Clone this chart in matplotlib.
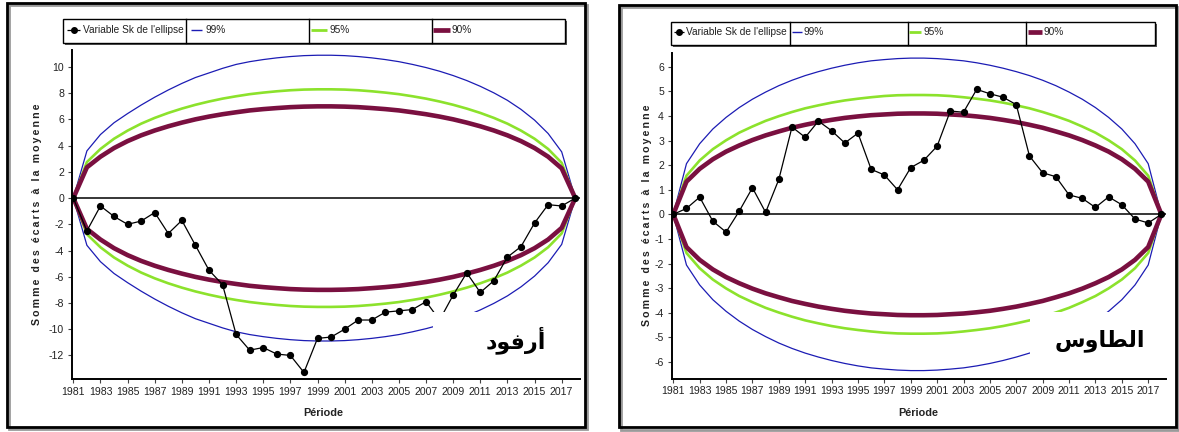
import matplotlib
matplotlib.use("Agg")
import matplotlib.pyplot as plt
from matplotlib.patches import Rectangle
from matplotlib.lines import Line2D

# ---------------------------------------------------------------- data
years = list(range(1981, 2019))
xtick_years = list(range(1981, 2018, 2))

# Arfoud: cumulative deviations from the mean (Bois ellipse test)
arfoud_sk = [0, -2.5, -0.6, -1.4, -2.0, -1.75, -1.1, -2.7, -1.7, -3.6,
             -5.5, -6.6, -10.4, -11.6, -11.4, -11.9, -12.0, -13.3, -10.7, -10.6,
             -10.0, -9.3, -9.3, -8.7, -8.6, -8.5, -7.9, -9.3, -7.4, -5.7,
             -7.2, -6.3, -4.5, -3.7, -1.9, -0.5, -0.6, 0]
arfoud_99 = [0, 3.6, 4.85, 5.75, 6.45, 7.1, 7.7, 8.25, 8.75, 9.2,
             9.55, 9.9, 10.2, 10.41, 10.57, 10.7, 10.8, 10.87, 10.9, 10.9,
             10.87, 10.8, 10.7, 10.57, 10.41, 10.2, 9.96, 9.68, 9.35, 8.97,
             8.53, 8.03, 7.46, 6.77, 5.95, 4.93, 3.53, 0]
arfoud_95 = [0, 2.75, 3.75, 4.53, 5.15, 5.68, 6.12, 6.5, 6.83, 7.12,
             7.37, 7.59, 7.77, 7.93, 8.05, 8.15, 8.23, 8.28, 8.3, 8.3,
             8.28, 8.23, 8.15, 8.05, 7.93, 7.77, 7.59, 7.37, 7.12, 6.83,
             6.5, 6.12, 5.68, 5.15, 4.53, 3.75, 2.69, 0]
arfoud_90 = [0, 2.35, 3.16, 3.82, 4.35, 4.79, 5.16, 5.48, 5.76, 6.01,
             6.22, 6.4, 6.55, 6.69, 6.79, 6.87, 6.94, 6.98, 7.0, 7.0,
             6.98, 6.94, 6.87, 6.79, 6.69, 6.55, 6.4, 6.22, 6.01, 5.76,
             5.48, 5.16, 4.79, 4.35, 3.82, 3.16, 2.27, 0]

# Taous
taous_sk = [0, 0.24, 0.7, -0.28, -0.72, 0.13, 1.08, 0.08, 1.42, 3.55,
            3.13, 3.79, 3.4, 2.9, 3.3, 1.83, 1.6, 1.0, 1.9, 2.2,
            2.77, 4.2, 4.15, 5.08, 4.9, 4.76, 4.46, 2.37, 1.69, 1.53,
            0.79, 0.65, 0.28, 0.71, 0.39, -0.19, -0.35, 0]
taous_99 = [0, 2.06, 2.87, 3.47, 3.94, 4.34, 4.68, 4.97, 5.23, 5.45,
            5.64, 5.8, 5.94, 6.06, 6.16, 6.24, 6.29, 6.33, 6.35, 6.35,
            6.33, 6.29, 6.24, 6.16, 6.06, 5.94, 5.8, 5.64, 5.45, 5.23,
            4.97, 4.68, 4.34, 3.94, 3.47, 2.87, 2.06, 0]
taous_95 = [0, 1.57, 2.19, 2.65, 3.01, 3.32, 3.57, 3.8, 3.99, 4.16,
            4.31, 4.43, 4.54, 4.63, 4.7, 4.76, 4.81, 4.84, 4.85, 4.85,
            4.84, 4.81, 4.76, 4.7, 4.63, 4.54, 4.43, 4.31, 4.16, 3.99,
            3.8, 3.57, 3.32, 3.01, 2.65, 2.19, 1.57, 0]
taous_90 = [0, 1.33, 1.85, 2.24, 2.55, 2.8, 3.02, 3.21, 3.37, 3.52,
            3.64, 3.75, 3.84, 3.92, 3.98, 4.03, 4.06, 4.09, 4.1, 4.1,
            4.09, 4.06, 4.03, 3.98, 3.92, 3.84, 3.75, 3.64, 3.52, 3.37,
            3.21, 3.02, 2.8, 2.55, 2.24, 1.85, 1.33, 0]

legend_labels = ["Variable Sk de l'ellipse", "99%", "95%", "90%"]
ylabel_text = "Somme des écarts à la moyenne"
xlabel_text = "Période"
# station names, in Arabic presentation forms (visual order)
name_arfoud = "\uFEA9\uFEEE\uFED3\uFEAD\uFE83"
name_taous = "\uFEB1\uFEED\uFE8E\uFEC4\uFEDF\uFE8D"

# ---------------------------------------------------------------- style
C_SK = "black"
C_99 = "#1c1cb4"
C_95 = "#8ce22c"
C_90 = "#7a1040"
SANS = ["Liberation Sans", "DejaVu Sans"]

W, H = 1179, 432
fig = plt.figure(figsize=(W / 100, H / 100), dpi=100)
fig.patch.set_facecolor("white")


def fx(x):
    return x / W


def fy(y):
    return 1 - y / H


def rect_px(x0, y0, x1, y1, **kw):
    r = Rectangle((fx(x0), fy(y1)), (x1 - x0) / W, (y1 - y0) / H,
                  transform=fig.transFigure, **kw)
    fig.add_artist(r)
    return r


def line_px(xs, ys, **kw):
    ln = Line2D([fx(x) for x in xs], [fy(y) for y in ys],
                transform=fig.transFigure, **kw)
    fig.add_artist(ln)
    return ln


def panel(ax_px, sk, b99, b95, b90, ylim, yticks):
    x0, y0, x1, y1 = ax_px
    ax = fig.add_axes([fx(x0), fy(y1), (x1 - x0) / W, (y1 - y0) / H])
    ax.set_facecolor("none")
    for series, col, lw in ((b99, C_99, 0.9), (b95, C_95, 1.9), (b90, C_90, 3.3)):
        ax.plot(years, series, color=col, lw=lw, zorder=2, solid_joinstyle="round")
        ax.plot(years, [-v for v in series], color=col, lw=lw, zorder=2,
                solid_joinstyle="round")
    ax.axhline(0, color="black", lw=1.1, zorder=3)
    ax.plot(years, sk, color=C_SK, lw=0.9, marker="o", ms=4.2, zorder=4)
    ax.set_xlim(1980.88, 2018.35)
    ax.set_ylim(*ylim)
    ax.set_xticks(xtick_years)
    ax.set_xticklabels([str(y) for y in xtick_years])
    ax.set_yticks(yticks)
    ax.set_yticklabels([str(v) for v in yticks])
    for s in ("top", "right"):
        ax.spines[s].set_visible(False)
    for s in ("left", "bottom"):
        ax.spines[s].set_linewidth(1.4)
        ax.spines[s].set_color("black")
    ax.tick_params(direction="out", length=3, width=0.8, color="#444444",
                   labelsize=7.6, labelcolor="#222222", pad=2.5)
    for lab in ax.get_xticklabels() + ax.get_yticklabels():
        lab.set_family(SANS)
    return ax


def legend(box, dividers, entries):
    x0, y0, x1, y1 = box
    rect_px(x0 + 2, y0 + 2, x1 + 2, y1 + 2, facecolor="#555555",
            edgecolor="none", zorder=5)
    rect_px(x0, y0, x1, y1, facecolor="white", edgecolor="black",
            lw=1.0, zorder=6)
    for d in dividers:
        line_px([d, d], [y0, y1], color="black", lw=1.0, zorder=7)
    ty = (y0 + y1) / 2 - 1.0
    for (sx0, sx1, tx), lab, col, lw, mk in zip(
            entries, legend_labels,
            (C_SK, C_99, C_95, C_90), (0.9, 1.0, 2.0, 3.4), ("o", None, None, None)):
        line_px([sx0, sx1], [ty, ty], color=col, lw=lw, zorder=7,
                solid_capstyle="butt")
        if mk:
            line_px([(sx0 + sx1) / 2], [ty], color=col, marker="o", ms=4.0,
                    lw=0, zorder=8)
        fig.text(fx(tx), fy(ty), lab, ha="left", va="center", fontsize=7.3,
                 family=SANS, color="#222222", zorder=8)


def frame(x0, y0, x1, y1):
    rect_px(x0 + 2, y0 + 2, x1 + 2, y1 + 2.5, facecolor="none",
            edgecolor="#9a9a9a", lw=2.0, zorder=9)
    rect_px(x0, y0, x1, y1, facecolor="none", edgecolor="black",
            lw=2.0, zorder=10)


def name_box(x0, y0, x1, y1, text, cx, cy):
    rect_px(x0, y0, x1, y1, facecolor="white", edgecolor="none", zorder=11)
    fig.text(fx(cx), fy(cy), text, ha="center", va="center", fontsize=16,
             fontweight="bold", family=["DejaVu Sans"], color="black", zorder=12)


# ---------------------------------------------------------------- left panel
ax1 = panel((71.7, 50, 580, 379), arfoud_sk, arfoud_99, arfoud_95, arfoud_90,
            (-13.8, 11.3), list(range(-12, 11, 2)))
# ---------------------------------------------------------------- right panel
ax2 = panel((671.7, 52.7, 1166, 378.7), taous_sk, taous_99, taous_95, taous_90,
            (-6.68, 6.57), list(range(-6, 7)))

spaced = "\u2009".join(ylabel_text)
for x, y in ((37, 214), (647, 215)):
    fig.text(fx(x), fy(y), spaced, rotation=90, ha="center", va="center",
             fontsize=7.6, fontweight="bold", family=SANS, color="#222222")
for x in (323.7, 918):
    fig.text(fx(x), fy(413), xlabel_text, ha="center", va="center",
             fontsize=7.8, fontweight="bold", family=SANS, color="#222222")

legend((63.3, 19, 564.5, 42.7), (186.3, 309.4, 431.7),
       ((67, 80, 83), (190.7, 202, 205), (311, 327, 329), (433, 450, 451)))
legend((670.7, 21.7, 1154.5, 45), (789.5, 908, 1025.5),
       ((674, 684, 686), (791.7, 801.7, 804), (909, 921, 924), (1027.7, 1041.6, 1043.5)))

name_box(433, 312, 566, 377.5, name_arfoud, 516, 340)
name_box(1030, 312, 1165, 377.5, name_taous, 1100, 341)

frame(6.7, 2.7, 585, 426.5)
frame(619.4, 5, 1176, 427)

fig.savefig("out.png", dpi=100, facecolor="white")
